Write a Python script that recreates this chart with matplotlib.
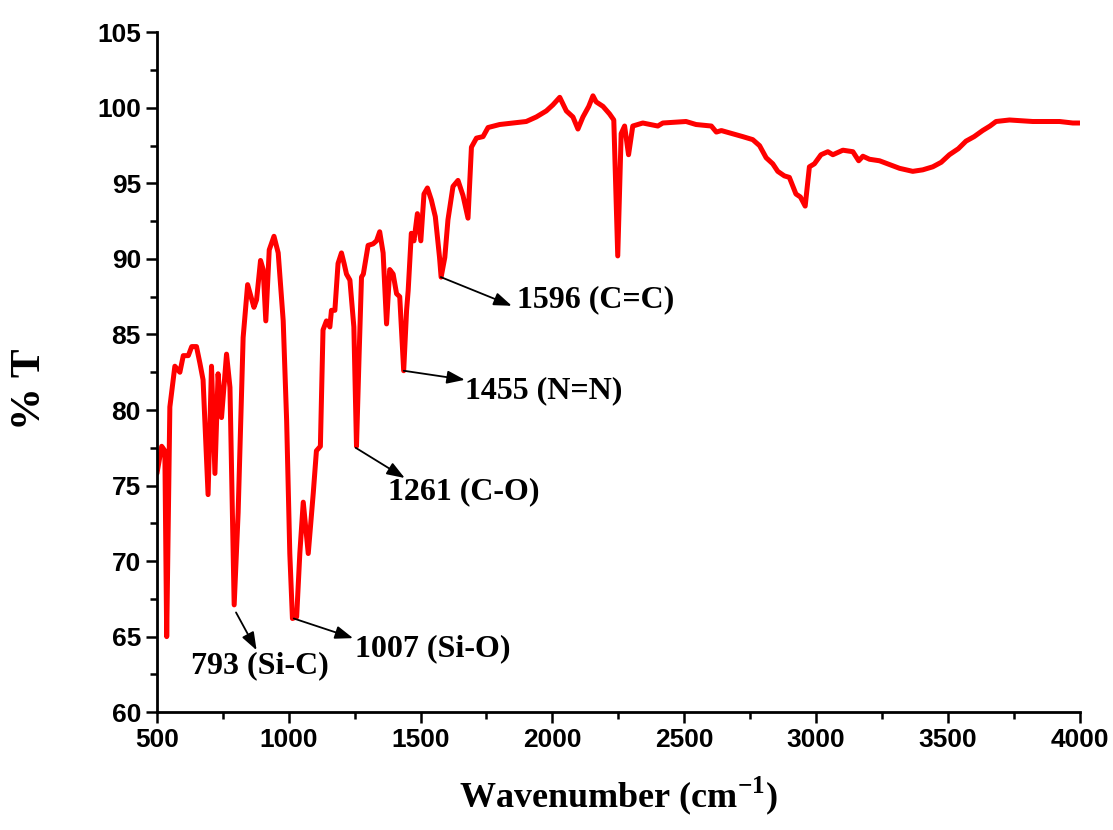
import matplotlib
matplotlib.use("Agg")
import matplotlib.pyplot as plt
from matplotlib.ticker import MultipleLocator

plt.rcParams["mathtext.fontset"] = "custom"
plt.rcParams["mathtext.rm"] = "Liberation Serif:bold"
plt.rcParams["mathtext.bf"] = "Liberation Serif:bold"

# FTIR spectrum, values
wavenumber = [
    500, 518, 530, 537, 549, 568, 587, 600, 619, 632, 650, 663, 675, 694, 707,
    720, 732, 745, 764, 777, 793, 808, 827, 844, 868, 878, 893, 903, 913, 926,
    944, 960, 979, 992, 1004, 1014, 1030, 1042, 1055, 1074, 1093, 1105, 1120,
    1130, 1143, 1156, 1162, 1175, 1187, 1200, 1210, 1219, 1232, 1247, 1257,
    1267, 1276, 1283, 1301, 1320, 1333, 1345, 1358, 1371, 1383, 1396, 1409,
    1421, 1436, 1447, 1453, 1465, 1475, 1488, 1501, 1513, 1526, 1541, 1556,
    1572, 1578, 1592, 1604, 1623, 1642, 1661, 1680, 1693, 1712, 1737, 1756,
    1800, 1851, 1901, 1939, 1977, 2002, 2028, 2053, 2078, 2097, 2116, 2138,
    2154, 2166, 2192, 2217, 2233, 2248, 2261, 2274, 2289, 2305, 2343, 2400,
    2419, 2507, 2545, 2603, 2622, 2641, 2722, 2760, 2786, 2811, 2836, 2855,
    2880, 2899, 2924, 2941, 2959, 2975, 2994, 3019, 3045, 3064, 3102, 3140,
    3162, 3178, 3203, 3241, 3317, 3367, 3405, 3443, 3475, 3506, 3540, 3569,
    3600, 3632, 3660, 3683, 3734, 3822, 3924, 3974, 4000,
]
transmittance = [
    75.8, 77.6, 77.3, 65.0, 80.2, 82.9, 82.5, 83.6, 83.6, 84.2, 84.2, 83.1,
    82.0, 74.4, 82.9, 75.8, 82.4, 79.5, 83.7, 81.5, 67.1, 73.2, 84.8, 88.3,
    86.8, 87.3, 89.9, 89.3, 85.9, 90.6, 91.5, 90.4, 85.9, 79.3, 70.5, 66.2,
    66.3, 70.5, 73.9, 70.5, 74.5, 77.3, 77.6, 85.3, 85.9, 85.5, 86.6, 86.6,
    89.7, 90.4, 89.7, 89.0, 88.6, 85.5, 77.6, 83.7, 88.8, 89.0, 90.9, 91.0,
    91.2, 91.8, 90.4, 85.7, 89.3, 89.0, 87.7, 87.5, 82.6, 86.6, 87.9, 91.7,
    91.2, 93.0, 91.2, 94.3, 94.7, 93.9, 92.8, 90.1, 88.8, 90.1, 92.6, 94.8,
    95.2, 94.2, 92.7, 97.4, 98.0, 98.1, 98.7, 98.9, 99.0, 99.1, 99.4, 99.8,
    100.2, 100.7, 99.8, 99.4, 98.6, 99.4, 100.1, 100.8, 100.4, 100.1, 99.6,
    99.2, 90.2, 98.3, 98.8, 96.9, 98.8, 99.0, 98.8, 99.0, 99.1, 98.9, 98.8,
    98.4, 98.5, 98.1, 97.9, 97.5, 96.7, 96.3, 95.8, 95.5, 95.4, 94.3, 94.1,
    93.5, 96.1, 96.3, 96.9, 97.1, 96.9, 97.2, 97.1, 96.5, 96.8, 96.6, 96.5,
    96.0, 95.8, 95.9, 96.1, 96.4, 96.9, 97.3, 97.8, 98.1, 98.5, 98.8, 99.1,
    99.2, 99.1, 99.1, 99.0, 99.0,
]

# peak labels: text, peak point, label position, arrow head
peak_labels = ["793 (Si-C)", "1007 (Si-O)", "1261 (C-O)", "1455 (N=N)", "1596 (C=C)"]
peak_x = [800, 1019, 1254, 1436, 1577]
peak_y = [66.6, 66.2, 77.5, 82.6, 88.8]
label_x = [890, 1250, 1376, 1668, 1865]
label_y = [63.1, 64.2, 74.6, 81.3, 87.3]
arrow_x = [878, 1244, 1440, 1668, 1846]
arrow_y = [64.1, 64.9, 75.5, 82.0, 86.9]

serif = ["Liberation Serif", "DejaVu Serif"]
sans = ["Liberation Sans", "DejaVu Sans"]

fig = plt.figure(figsize=(11.13, 8.30), dpi=100)
ax = fig.add_axes([0.141, 0.142, 0.829, 0.819])

ax.plot(wavenumber, transmittance, color="#ff0000", lw=3.6,
        solid_joinstyle="round", solid_capstyle="round")

for i, txt in enumerate(peak_labels):
    ax.annotate("", xy=(arrow_x[i], arrow_y[i]), xytext=(peak_x[i], peak_y[i]),
                arrowprops=dict(arrowstyle="-|>,head_length=0.6,head_width=0.22",
                                color="black", lw=1.3, mutation_scale=18,
                                shrinkA=0, shrinkB=0))
    ha = "center" if i == 0 else "left"
    ax.text(label_x[i], label_y[i], txt, ha=ha, va="center",
            fontsize=23, fontweight="bold", family=serif)

ax.set_xlim(500, 4000)
ax.set_ylim(60, 105)
ax.xaxis.set_major_locator(MultipleLocator(500))
ax.xaxis.set_minor_locator(MultipleLocator(250))
ax.yaxis.set_major_locator(MultipleLocator(5))
ax.yaxis.set_minor_locator(MultipleLocator(2.5))

for side in ["top", "right"]:
    ax.spines[side].set_visible(False)
for side in ["left", "bottom"]:
    ax.spines[side].set_linewidth(2.0)

ax.tick_params(which="major", direction="out", length=8, width=1.8)
ax.tick_params(which="minor", direction="out", length=5, width=1.8)
for lab in ax.get_xticklabels() + ax.get_yticklabels():
    lab.set_family(sans)
    lab.set_fontweight("bold")
    lab.set_fontsize(19)

ax.set_xlabel("Wavenumber (cm$^{\\mathbf{-1}}$)", fontsize=26, fontweight="bold",
              family=serif, labelpad=16)
ax.set_ylabel("% T", fontsize=31, fontweight="bold", family=serif)
ax.yaxis.set_label_coords(-0.117, 0.475)

fig.savefig("out.png", dpi=100)
